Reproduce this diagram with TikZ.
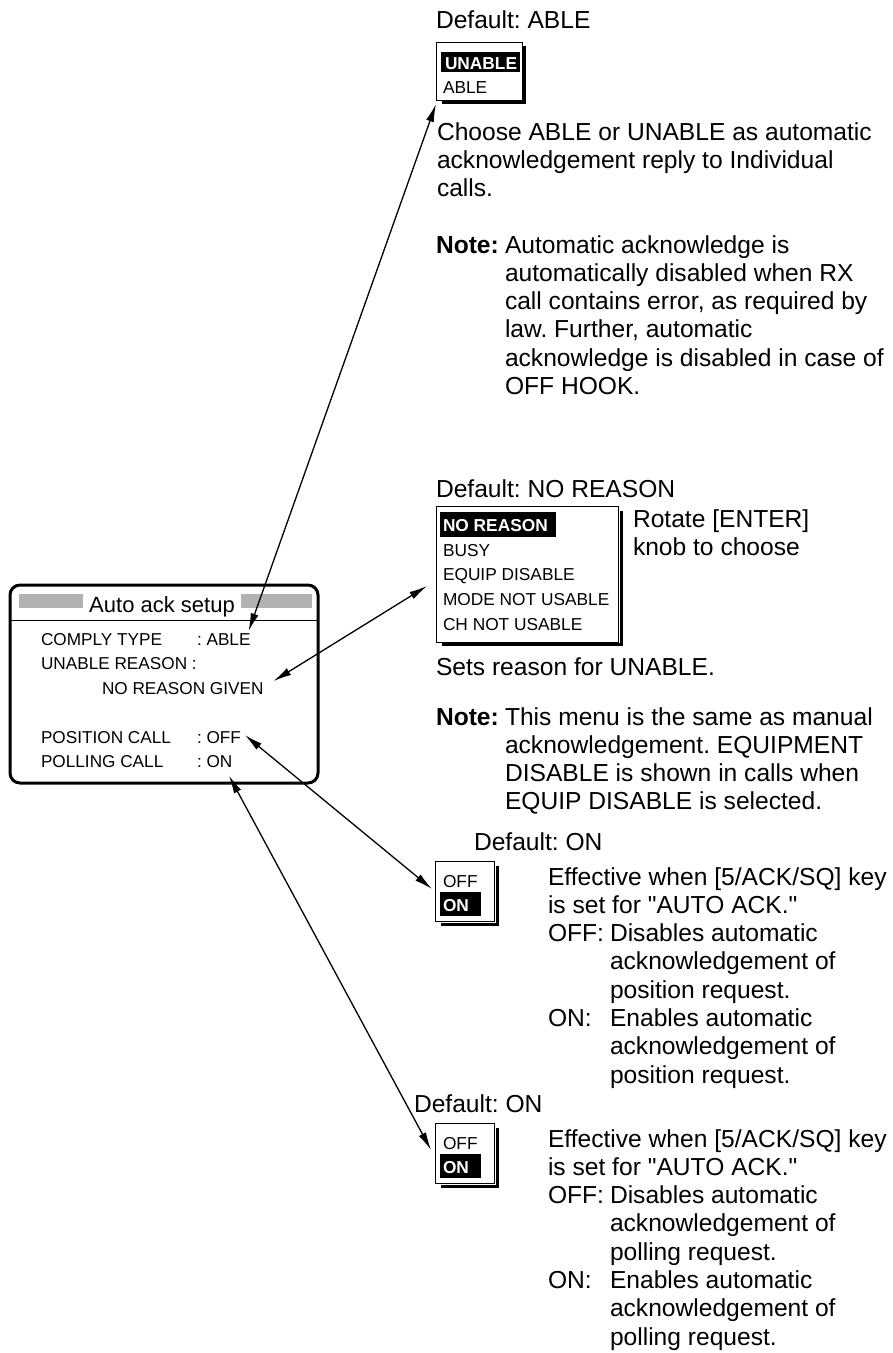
\documentclass[tikz,border=0pt]{standalone}
\usepackage{fontspec}
\setmainfont{Liberation Sans}[Ligatures=TeXOff]
\usetikzlibrary{arrows.meta,positioning,calc}
\frenchspacing

\newcommand{\bodyfont}{\fontsize{24.6pt}{28.3pt}\selectfont}
\newcommand{\menufont}{\fontsize{17.3pt}{24.75pt}\selectfont}
\newcommand{\panelfont}{\fontsize{17.2pt}{24.5pt}\selectfont}

\begin{document}
\begin{tikzpicture}[x=1pt,y=-1pt,
    every node/.style={inner sep=0pt,outer sep=0pt},
    txt/.style={anchor=base west,font=\bodyfont,align=left},
    item/.style={anchor=base west,font=\menufont},
    selitem/.style={anchor=base west,font=\menufont\bfseries,text=white},
    ptxt/.style={anchor=base west,font=\panelfont},
    menubox/.style={draw,line width=1pt,anchor=north west,fill=white},
    hilite/.style={fill=black,anchor=north west},
    shade/.style={line width=3.5pt},
    link/.style={{Latex[length=18pt,width=8pt]}-{Latex[length=18pt,width=8pt]},line width=1.3pt}]
  \useasboundingbox (0,0) rectangle (893,1353);

  % setup panel
  \node[draw,line width=3pt,rounded corners=10pt,minimum width=308pt,minimum height=198pt,anchor=north west] (panel) at (10,585) {};
  \fill[black!30] (19,594) rectangle (83,608);
  \fill[black!30] (241,594) rectangle (312,608);
  \node[anchor=base,font=\fontsize{22pt}{26pt}\selectfont] (title) at (162,612) {Auto ack setup};
  \draw[line width=0.8pt] (panel.west |- 0,620) -- (panel.east |- 0,620);
  \node[ptxt] (comply)  at (41,645)   {COMPLY TYPE};
  \node[ptxt] (complyv) at (197,645)  {: ABLE};
  \node[ptxt] (reason)  at (41,669.5) {UNABLE REASON :};
  \node[ptxt] (reasonv) at (102,694)  {NO REASON GIVEN};
  \node[ptxt] (poscall) at (41,743)   {POSITION CALL};
  \node[ptxt] (posv)    at (197,743)  {: OFF};
  \node[ptxt] (polcall) at (41,767.5) {POLLING CALL};
  \node[ptxt] (polv)    at (197,767.5){: ON};

  % comply type menu (text blocks sit on their last line)
  \node[txt] (deftype) at (436,28) {Default: ABLE};
  \draw[shade] (524.5,46) |- (442,102.5);
  \node[menubox,minimum width=86pt,minimum height=58pt] (typemenu) at (436,42) {};
  \node[hilite,minimum width=79pt,minimum height=20pt] (typesel) at (441,52) {};
  \node[selitem] at (445,69) {UNABLE};
  \node[item] at (443,93) {ABLE};
  \node[txt] (typehelp) at (437,196.6) {Choose ABLE or UNABLE as automatic\\acknowledgement reply to Individual\\calls.};
  \node[txt,font=\bodyfont\bfseries] (typenote) at (436,253) {Note:};
  \node[txt] (typenotet) at (505,394.5) {Automatic acknowledge is\\automatically disabled when RX\\call contains error, as required by\\law. Further, automatic\\acknowledge is disabled in case of\\OFF HOOK.};

  % unable reason menu
  \node[txt] (defreason) at (436,497) {Default: NO REASON};
  \draw[shade] (621.5,511) |- (442,644.5);
  \node[menubox,minimum width=182pt,minimum height=136pt] (reasonmenu) at (436,506) {};
  \node[hilite,minimum width=116pt,minimum height=25pt] (reasonsel) at (440,512) {};
  \node[selitem] at (443,531) {NO REASON};
  \node[item] at (443,556) {BUSY};
  \node[item] at (443,580.5) {EQUIP DISABLE};
  \node[item] at (443,605) {MODE NOT USABLE};
  \node[item] at (443,630) {CH NOT USABLE};
  \node[txt] (rotate) at (633,555.3) {Rotate [ENTER]\\knob to choose};
  \node[txt] (reasonhelp) at (436,675) {Sets reason for UNABLE.};
  \node[txt,font=\bodyfont\bfseries] (reasonnote) at (436,725) {Note:};
  \node[txt] (reasonnotet) at (505,809.9) {This menu is the same as manual\\acknowledgement. EQUIPMENT\\DISABLE is shown in calls when\\EQUIP DISABLE is selected.};

  % position call menu
  \node[txt] (defpos) at (474,850) {Default: ON};
  \draw[shade] (497.5,866) |- (441,924.5);
  \node[menubox,minimum width=59pt,minimum height=60pt] (posmenu) at (435,861) {};
  \node[item] at (443,887) {OFF};
  \node[hilite,minimum width=41pt,minimum height=24pt] (possel) at (440,892) {};
  \node[selitem] at (443,911) {ON};
  \node[txt] (poshelp) at (548,913.3) {Effective when [5/ACK/SQ] key\\is set for "AUTO ACK."};
  \node[txt] (posoff) at (548,941.6) {OFF:};
  \node[txt] (posofft) at (610,998.2) {Disables automatic\\acknowledgement of\\position request.};
  \node[txt] (poson) at (548,1026.5) {ON:};
  \node[txt] (posont) at (610,1083.1) {Enables automatic\\acknowledgement of\\position request.};

  % polling call menu
  \node[txt] (defpol) at (414,1112) {Default: ON};
  \draw[shade] (497.5,1128) |- (441,1186.5);
  \node[menubox,minimum width=59pt,minimum height=60pt] (polmenu) at (435,1123) {};
  \node[item] at (443,1149) {OFF};
  \node[hilite,minimum width=41pt,minimum height=24pt] (polsel) at (440,1154) {};
  \node[selitem] at (443,1173) {ON};
  \node[txt] (polhelp) at (548,1175.3) {Effective when [5/ACK/SQ] key\\is set for "AUTO ACK."};
  \node[txt] (poloff) at (548,1203.6) {OFF:};
  \node[txt] (polofft) at (610,1260.2) {Disables automatic\\acknowledgement of\\polling request.};
  \node[txt] (polon) at (548,1288.5) {ON:};
  \node[txt] (polont) at (610,1345.1) {Enables automatic\\acknowledgement of\\polling request.};

  % links
  \coordinate (typetip) at (436,104);
  \coordinate (reasontip) at (427,586);
  \coordinate (postip) at (432,889);
  \coordinate (poltip) at (431,1150);
  \draw[link] (typetip) -- ($(complyv.north east)+(-2,-2)$);
  \draw[link] (reasontip) -- ($(reasonv.east)+(10,-7)$);
  \draw[link] (postip) -- ($(posv.east)+(4,-2)$);
  \draw[link] (poltip) -- ($(polv.south west)+(32,8)$);
\end{tikzpicture}
\end{document}
